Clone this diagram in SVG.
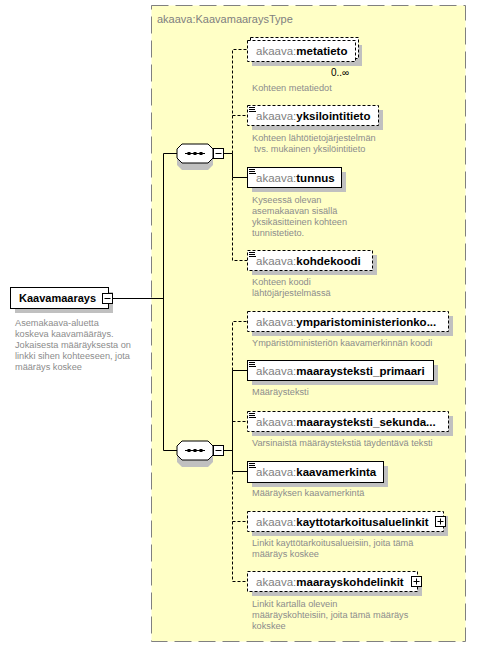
<svg xmlns="http://www.w3.org/2000/svg" xmlns:xlink="http://www.w3.org/1999/xlink" width="477" height="648" viewBox="0 0 477 648">
<style>
text{font-family:"Liberation Sans",Arial,sans-serif}
.pre{fill:#808080}
.nm{font-weight:bold;fill:#000}
.lbl{font-size:11.5px}
.cm{font-size:9.2px;fill:#8c8c8c}
.box{fill:#fff;stroke:#000;stroke-width:1}
.dbox{fill:#fff;stroke:#000;stroke-width:1;stroke-dasharray:3 2}
.sh{fill:#c0c0c0}
.ln{stroke:#000;stroke-width:1;fill:none}
.dl{stroke:#000;stroke-width:1;fill:none;stroke-dasharray:3 2}
</style>
<defs>
<path id="icon" d="M249,0.5h6M249,2.5h6M249,4.5h7" stroke="#000" stroke-width="1" fill="none"/>
<g id="minus"><rect x="0.5" y="0.5" width="10" height="10" fill="#fff" stroke="#000"/><path d="M2.5,5.5h6" stroke="#000"/></g>
<g id="plus"><rect x="0.5" y="0.5" width="10" height="10" fill="#fff" stroke="#000"/><path d="M2.5,5.5h6M5.5,2.5v6" stroke="#000"/></g>
<g id="seq">
<path d="M-13,-6.5 H13 L18,-1.5 V11.5 L13,16.5 H-13 L-18,11.5 V-1.5 Z" fill="#c0c0c0"/>
<path d="M-13,-9.5 H13 L18,-4.5 V4.5 L13,9.5 H-13 L-18,4.5 V-4.5 Z" fill="#fff" stroke="#000"/>
<path d="M-10,0 H10" stroke="#000"/>
<rect x="-7.5" y="-1.5" width="3" height="3" fill="#000"/>
<rect x="-1.5" y="-1.5" width="3" height="3" fill="#000"/>
<rect x="4.5" y="-1.5" width="3" height="3" fill="#000"/>
</g>
</defs>

<g id="type-box">
<rect x="151.5" y="5.5" width="314" height="636" fill="#ffffc6" stroke="#808080" stroke-width="1" stroke-dasharray="17 7"/>
<text x="157" y="23" font-size="11px" fill="#808080">akaava:KaavamaaraysType</text>
</g>

<g id="connectors">
<path class="ln" d="M113,298.5 H163.5 M163.5,153.5 V450.5 M163.5,153.5 H177 M163.5,450.5 H177"/>
<path class="ln" d="M224,153.5 H232.5 V177.5 H247"/>
<path class="dl" d="M232.5,153.5 V49.5 H247 M232.5,115.5 H247 M232.5,177.5 V260.5 H247"/>
<path class="ln" d="M224,450.5 H232.5 M232.5,370.5 V471.5 M232.5,370.5 H247 M232.5,471.5 H247"/>
<path class="dl" d="M232.5,370.5 V321.5 H247 M232.5,421.5 H247 M232.5,471.5 V581.5 H247 M232.5,521.5 H247"/>
</g>

<g id="seq1">
<use xlink:href="#seq" x="195" y="153.5"/>
<use xlink:href="#minus" x="213" y="148"/>
</g>
<g id="seq2">
<use xlink:href="#seq" x="195" y="450.5"/>
<use xlink:href="#minus" x="213" y="445"/>
</g>

<g id="Kaavamaarays">
<rect class="sh" x="15" y="292" width="98" height="21"/>
<rect class="box" x="10.5" y="287.5" width="98" height="21"/>
<text x="19" y="302" font-size="11px" class="nm">Kaavamaarays</text>
<use xlink:href="#minus" x="102" y="293"/>
<text class="cm"><tspan x="15" y="326">Asemakaava-aluetta</tspan><tspan x="15" y="337">koskeva kaavamääräys.</tspan><tspan x="15" y="348">Jokaisesta määräyksesta on</tspan><tspan x="15" y="359">linkki sihen kohteeseen, jota</tspan><tspan x="15" y="370">määräys koskee</tspan></text>
</g>

<g id="metatieto">
<rect class="sh" x="252" y="45" width="110" height="21"/>
<rect class="dbox" x="250.5" y="37.5" width="108" height="21"/>
<rect class="dbox" x="247.5" y="40.5" width="108" height="21"/>
<text x="256" y="55" class="lbl"><tspan class="pre">akaava:</tspan><tspan class="nm">metatieto</tspan></text>
<text x="331" y="76" font-size="10px" fill="#000">0..∞</text>
<text x="252" y="91" class="cm">Kohteen metatiedot</text>
</g>

<g id="yksilointitieto">
<rect class="sh" x="252" y="110" width="131" height="20"/>
<rect class="dbox" x="247.5" y="105.5" width="131" height="20"/>
<use xlink:href="#icon" y="107"/>
<text x="256" y="120" class="lbl"><tspan class="pre">akaava:</tspan><tspan class="nm">yksilointitieto</tspan></text>
<text class="cm"><tspan x="252" y="141">Kohteen lähtötietojärjestelmän</tspan><tspan x="254" y="152">tvs. mukainen yksilöintitieto</tspan></text>
</g>

<g id="tunnus">
<rect class="sh" x="252" y="172" width="94" height="20"/>
<rect class="box" x="247.5" y="167.5" width="94" height="20"/>
<use xlink:href="#icon" y="169"/>
<text x="256" y="182" class="lbl"><tspan class="pre">akaava:</tspan><tspan class="nm">tunnus</tspan></text>
<text class="cm"><tspan x="252" y="203">Kyseessä olevan</tspan><tspan x="252" y="214">asemakaavan sisällä</tspan><tspan x="252" y="225">yksikäsitteinen kohteen</tspan><tspan x="252" y="236">tunnistetieto.</tspan></text>
</g>

<g id="kohdekoodi">
<rect class="sh" x="252" y="255" width="125" height="20"/>
<rect class="dbox" x="247.5" y="250.5" width="125" height="20"/>
<use xlink:href="#icon" y="252"/>
<text x="256" y="265" class="lbl"><tspan class="pre">akaava:</tspan><tspan class="nm">kohdekoodi</tspan></text>
<text class="cm"><tspan x="252" y="285">Kohteen koodi</tspan><tspan x="252" y="296">lähtöjärjestelmässä</tspan></text>
</g>

<g id="ymparistoministerionkoodi">
<rect class="sh" x="252" y="316" width="201" height="20"/>
<rect class="dbox" x="247.5" y="311.5" width="201" height="20"/>
<text x="256" y="326" class="lbl"><tspan class="pre">akaava:</tspan><tspan class="nm">ymparistoministerionko...</tspan></text>
<text x="252" y="346" class="cm">Ympäristöministeriön kaavamerkinnän koodi</text>
</g>

<g id="maaraysteksti_primaari">
<rect class="sh" x="252" y="365" width="186" height="20"/>
<rect class="box" x="247.5" y="360.5" width="186" height="20"/>
<use xlink:href="#icon" y="362"/>
<text x="256" y="375" class="lbl"><tspan class="pre">akaava:</tspan><tspan class="nm">maaraysteksti_primaari</tspan></text>
<text x="252" y="395" class="cm">Määräysteksti</text>
</g>

<g id="maaraysteksti_sekundaari">
<rect class="sh" x="252" y="416" width="201" height="20"/>
<rect class="dbox" x="247.5" y="411.5" width="201" height="20"/>
<use xlink:href="#icon" y="413"/>
<text x="256" y="426" class="lbl"><tspan class="pre">akaava:</tspan><tspan class="nm">maaraysteksti_sekunda...</tspan></text>
<text x="252" y="446" class="cm">Varsinaistä määräystekstiä täydentävä teksti</text>
</g>

<g id="kaavamerkinta">
<rect class="sh" x="252" y="466" width="136" height="21"/>
<rect class="box" x="247.5" y="461.5" width="136" height="21"/>
<use xlink:href="#icon" y="463"/>
<text x="256" y="476" class="lbl"><tspan class="pre">akaava:</tspan><tspan class="nm">kaavamerkinta</tspan></text>
<text x="252" y="496" class="cm">Määräyksen kaavamerkintä</text>
</g>

<g id="kayttotarkoitusaluelinkit">
<rect class="sh" x="252" y="516" width="196" height="20"/>
<rect class="dbox" x="247.5" y="511.5" width="196" height="20"/>
<text x="256" y="526" class="lbl"><tspan class="pre">akaava:</tspan><tspan class="nm">kayttotarkoitusaluelinkit</tspan></text>
<use xlink:href="#plus" x="435" y="516"/>
<text class="cm"><tspan x="252" y="546">Linkit kayttötarkoitusalueisiin, joita tämä</tspan><tspan x="252" y="557">määräys koskee</tspan></text>
</g>

<g id="maarayskohdelinkit">
<rect class="sh" x="252" y="576" width="170" height="20"/>
<rect class="dbox" x="247.5" y="571.5" width="170" height="20"/>
<text x="256" y="586" class="lbl"><tspan class="pre">akaava:</tspan><tspan class="nm">maarayskohdelinkit</tspan></text>
<use xlink:href="#plus" x="411" y="576"/>
<text class="cm"><tspan x="252" y="607">Linkit kartalla olevein</tspan><tspan x="252" y="618">määräyskohteisiin, joita tämä määräys</tspan><tspan x="252" y="629">kokskee</tspan></text>
</g>
</svg>
